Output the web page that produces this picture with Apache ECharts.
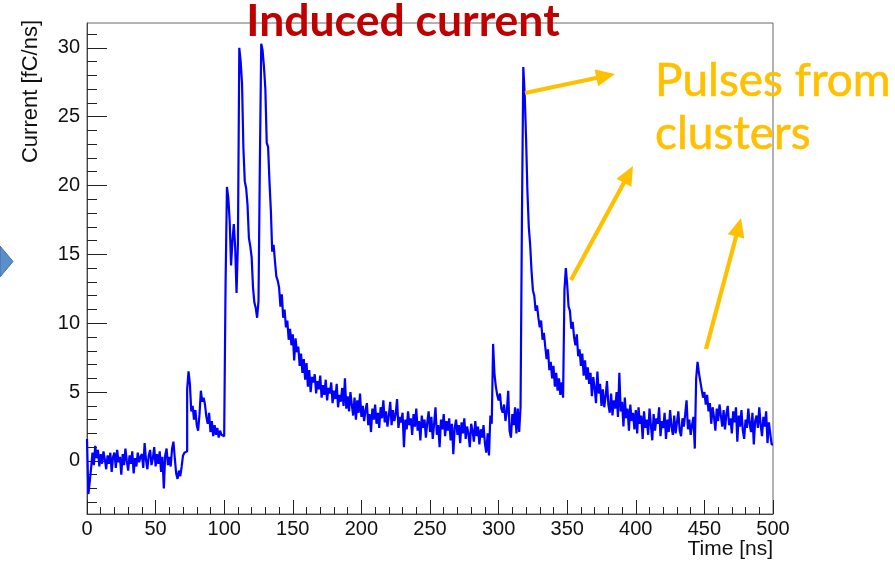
<!DOCTYPE html>
<html>
<head>
<meta charset="utf-8">
<script src="https://cdn.jsdelivr.net/npm/echarts@6/dist/echarts.min.js"></script>
<style>
html,body{margin:0;padding:0;background:#fff;}
#c{width:895px;height:564px;}
</style>
</head>
<body>
<div id="c"></div>
<script>
// Induced current per 1 ns bin, bins start at t = 0,1,...,499 ns
const current = [
1.6,-2.4,-1.5,-0.5,0.6,-0.3,1.1,0.2,0.8,-0.4,
0.5,-0.2,0.7,0.1,-0.6,0.4,-0.2,0.6,-0.8,0.3,
0.6,-0.5,0.8,-0.1,0.3,-1.0,0.5,-0.3,0.9,0.0,
-0.7,0.4,-0.2,0.7,-0.9,0.2,-0.4,0.6,-0.1,0.3,
0.5,-0.5,1.3,0.1,-0.6,0.4,0.8,-0.3,0.2,1.0,
-0.4,0.5,-0.2,0.7,-0.8,0.3,-2.0,0.4,0.9,-0.3,
0.3,-0.4,0.9,1.4,0.2,-0.9,-1.3,-0.7,-1.1,-0.4,
0.4,0.6,0.7,5.2,6.5,5.6,3.6,4.0,3.0,3.7,
2.6,2.2,3.4,5.1,4.3,4.6,4.1,3.2,2.7,3.5,
2.1,2.9,1.8,2.6,1.9,2.4,1.7,2.2,1.9,1.8,
2.0,12.9,19.9,19.1,17.4,14.2,16.0,17.2,15.5,12.2,
15.8,30.0,29.0,27.4,22.7,20.3,19.8,18.6,16.2,15.6,
14.8,12.6,11.5,11.1,10.4,11.6,21.6,30.3,29.8,28.6,
27.0,23.1,22.8,20.3,18.2,15.2,15.7,14.5,13.4,13.1,
12.6,11.2,12.1,10.4,11.0,9.7,10.2,8.8,9.6,8.4,
9.2,7.3,8.9,7.9,8.3,6.9,7.8,6.4,7.4,5.9,
7.1,5.4,6.6,5.0,6.1,5.7,6.3,4.9,5.8,5.2,
6.2,4.6,5.5,4.8,5.9,4.4,5.3,4.9,5.7,4.2,
5.1,4.5,5.6,3.9,4.8,4.3,5.3,4.0,6.0,3.8,
4.7,3.6,5.0,4.1,3.3,4.6,3.0,4.4,3.5,4.9,
3.2,4.0,2.9,3.7,4.2,2.6,3.4,2.1,3.8,3.0,
4.1,2.7,3.5,2.4,3.9,3.1,4.4,2.8,3.6,2.5,
3.3,4.3,2.6,3.7,2.9,3.4,4.5,2.4,3.2,2.8,
3.5,1.0,3.0,2.3,3.6,2.6,3.1,1.9,3.4,2.5,
3.8,2.2,2.9,1.5,3.3,2.4,3.0,1.7,2.8,3.6,
2.1,3.2,1.6,2.7,3.9,1.9,2.6,1.0,3.0,2.3,
3.4,1.8,2.9,2.2,3.1,1.5,2.7,0.5,2.4,3.0,
1.9,2.6,1.3,2.8,2.0,3.1,1.6,2.5,2.0,1.0,
2.7,2.2,1.4,2.9,1.8,2.5,1.2,2.3,1.7,2.6,
1.3,0.6,2.0,0.4,3.3,2.7,8.5,6.3,5.4,4.8,
4.4,4.9,3.8,3.5,4.1,2.9,3.6,5.1,2.2,1.7,
3.4,2.6,3.9,2.0,3.8,2.1,3.9,17.5,28.6,26.7,
23.5,19.6,17.0,15.7,13.8,12.4,12.0,10.9,11.3,10.4,
9.7,10.2,8.8,9.3,8.3,7.4,8.1,6.6,7.2,6.0,
6.9,5.4,6.4,5.1,6.0,4.8,5.7,4.6,12.4,14.0,
12.8,11.2,10.9,9.6,10.1,9.0,8.4,9.2,7.6,8.1,
6.9,7.8,6.2,7.3,5.9,6.8,5.6,6.4,4.7,6.1,
5.3,4.2,6.5,4.9,5.6,4.0,5.2,3.9,4.7,5.8,
4.1,3.5,4.9,3.3,4.4,3.8,5.0,3.2,6.4,3.6,
4.3,2.5,4.6,3.1,3.8,2.2,4.1,2.9,3.5,2.3,
3.7,2.0,3.9,2.7,3.3,1.6,3.6,2.4,3.0,1.9,
3.8,2.6,1.5,3.4,2.2,3.1,2.7,3.9,1.8,2.9,
2.4,3.5,1.6,3.0,2.1,3.7,2.5,1.9,3.3,2.0,
2.8,3.6,2.2,1.8,3.1,2.5,3.4,4.4,2.3,3.0,
1.9,2.6,3.2,0.9,6.0,7.2,6.4,5.8,5.2,4.6,
5.0,4.1,4.8,3.6,4.2,2.7,3.9,3.2,2.2,3.8,
2.9,4.1,3.3,2.5,3.7,2.3,3.4,4.0,2.6,3.1,
2.0,3.6,2.8,3.9,1.4,3.3,2.5,3.7,2.2,1.6,
3.0,2.4,3.8,2.7,2.1,3.5,1.2,2.9,3.3,2.4,
3.9,2.6,1.8,3.2,2.5,3.6,1.3,2.8,2.0,1.2
];
const binWidth = 1; // ns
const xTicks = [0,50,100,150,200,250,300,350,400,450,500];
const yTicks = [0,5,10,15,20,25,30];
const yMinorTicks = [-3,-2,-1,0,1,2,3,4,5,6,7,8,9,10,11,12,13,14,15,16,17,18,19,20,21,22,23,24,25,26,27,28,29,30,31];
const xTitle = 'Time [ns]';
const yTitle = 'Current [fC/ns]';
const chartTitle = 'Induced current';
const noteLines = ['Pulses from', 'clusters'];

const seriesData = current.map((v, i) => [i * binWidth, v]);
seriesData.push([current.length * binWidth, current[current.length - 1]]);

const chart = echarts.init(document.getElementById('c'), null, {renderer: 'canvas'});
const axisFont = {fontFamily: 'Liberation Sans', fontSize: 20, color: '#111'};
const orange = '#FFC000';

function arrow(x1, y1, x2, y2) {
  const dx = x2 - x1, dy = y2 - y1, L = Math.hypot(dx, dy);
  const ux = dx / L, uy = dy / L, nx = -uy, ny = ux;
  const hl = 19, hw = 8.5;
  const bx = x2 - ux * hl, by = y2 - uy * hl;
  return [
    {type: 'line', z: 100, shape: {x1: x1, y1: y1, x2: bx + ux * 2, y2: by + uy * 2},
     style: {stroke: orange, lineWidth: 4.2}},
    {type: 'polygon', z: 100, shape: {points: [[x2, y2], [bx + nx * hw, by + ny * hw], [bx - nx * hw, by - ny * hw]]},
     style: {fill: orange}}
  ];
}

chart.setOption({
  animation: false,
  backgroundColor: '#fff',
  grid: {left: 87, right: 122, top: 23, bottom: 50, show: true, borderColor: '#666', borderWidth: 1, backgroundColor: 'transparent'},
  xAxis: {
    type: 'value', min: 0, max: 500, interval: 50,
    axisLine: {show: true, onZero: false, lineStyle: {color: '#444', width: 1}},
    axisTick: {show: true, inside: true, length: 14, lineStyle: {color: '#222', width: 1}},
    minorTick: {show: true, splitNumber: 5, length: 7, lineStyle: {color: '#222', width: 1}},
    axisLabel: Object.assign({margin: 5, customValues: xTicks}, axisFont),
    splitLine: {show: false}
  },
  yAxis: [
    {
      type: 'value', min: -3.85, max: 31.8, position: 'left',
      axisLine: {show: true, onZero: false, lineStyle: {color: '#444', width: 1}},
      axisTick: {show: true, inside: true, length: 20, customValues: yTicks, lineStyle: {color: '#222', width: 1}},
      axisLabel: Object.assign({margin: 7, customValues: yTicks}, axisFont),
      splitLine: {show: false}
    },
    {
      type: 'value', min: -3.85, max: 31.8, position: 'left', offset: 0,
      axisLine: {show: false},
      axisTick: {show: true, inside: true, length: 10, customValues: yMinorTicks, lineStyle: {color: '#222', width: 1}},
      axisLabel: {show: false},
      splitLine: {show: false}
    }
  ],
  series: [{
    type: 'line', step: 'end', data: seriesData, showSymbol: false, symbol: 'none',
    lineStyle: {color: '#0000FF', width: 2.2}, clip: true, z: 5
  }],
  graphic: [
    {type: 'polygon', shape: {points: [[0, 246], [13, 261.5], [0, 277]]},
     style: {fill: '#5B8FCB', stroke: '#41719C', lineWidth: 1}},
    {type: 'text', z: 100, x: 403, y: 22, style: {text: chartTitle, font: 'bold 44.5px Lato', fill: '#C00000', align: 'center', verticalAlign: 'middle'}},
    {type: 'text', z: 100, x: 655, y: 81, style: {text: noteLines[0], font: '46px Lato', fill: orange, align: 'left', verticalAlign: 'middle', stroke: orange, lineWidth: 0.6}},
    {type: 'text', z: 100, x: 655, y: 134, style: {text: noteLines[1], font: '46px Lato', fill: orange, align: 'left', verticalAlign: 'middle', stroke: orange, lineWidth: 0.6}},
    {type: 'text', z: 100, x: 773, y: 549, style: {text: xTitle, font: '21px "Liberation Sans"', fill: '#111', align: 'right', verticalAlign: 'middle'}},
    {type: 'text', z: 100, x: 31, y: 20, rotation: Math.PI / 2, style: {text: yTitle, font: '22px "Liberation Sans"', fill: '#111', align: 'right', verticalAlign: 'middle'}}
  ].concat(arrow(525, 93, 615, 74), arrow(571, 280, 633, 166), arrow(706, 349, 741, 218))
});
</script>
</body>
</html>
